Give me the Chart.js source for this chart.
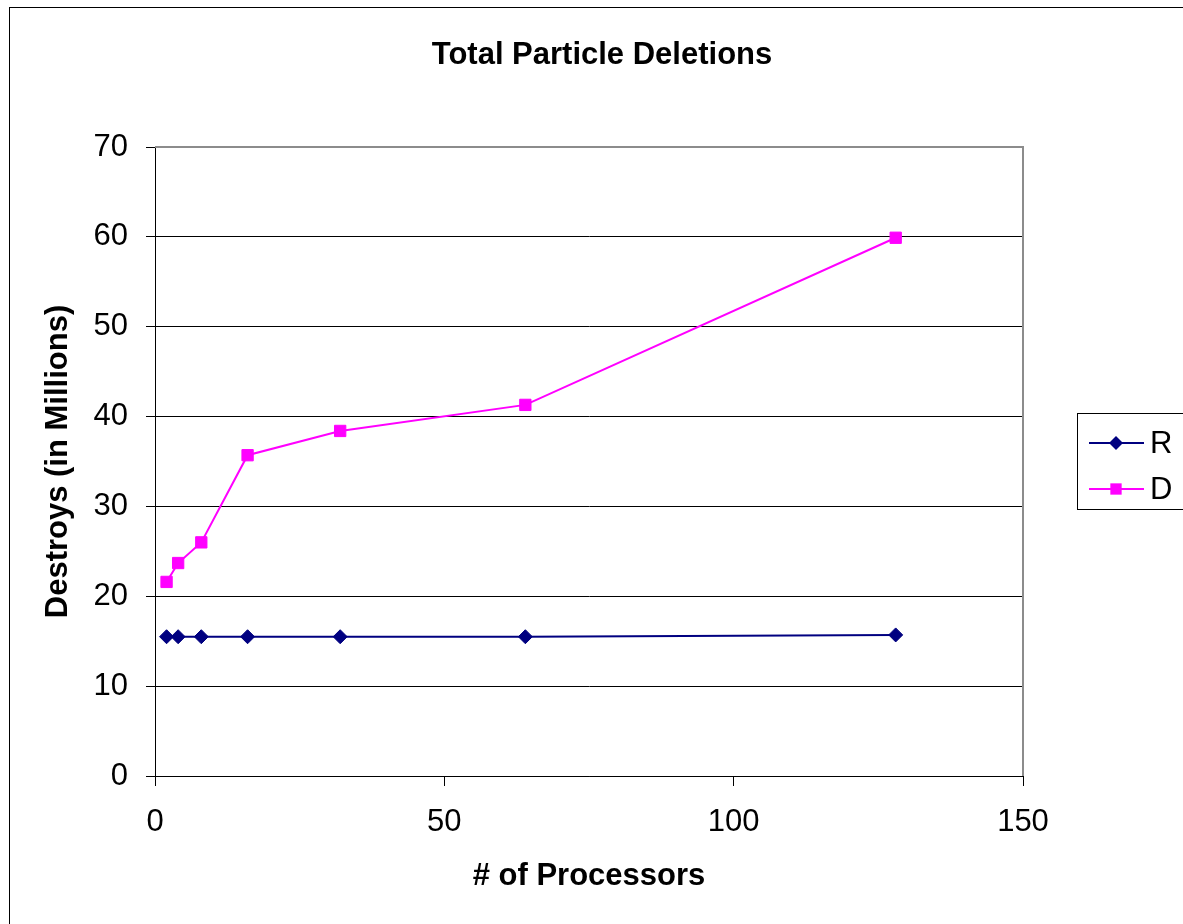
<!DOCTYPE html>
<html>
<head>
<meta charset="utf-8">
<title>Total Particle Deletions</title>
<script src="https://cdn.jsdelivr.net/npm/chart.js@4"></script>
<style>
    body { margin: 0; background: #fff; }
    canvas { display: block; }
</style>
</head>
<body>
<canvas id="deletions-chart" width="1183" height="924"></canvas>
<script>
const processors = [2, 4, 8, 16, 32, 64, 128];
const rValues = [15.5, 15.5, 15.5, 15.5, 15.5, 15.5, 15.7];
const dValues = [21.6, 23.7, 26.0, 35.7, 38.4, 41.3, 59.9];
const xTicks = [0, 50, 100, 150];
const yTicks = [0, 10, 20, 30, 40, 50, 60, 70];

const FONT = "'Liberation Sans', Arial, sans-serif";

/* frame, title, plot border, legend */

const decor = {
    id: 'decor',
    beforeDraw(chart) {
        const c = chart.ctx;
        c.save();
        c.fillStyle = '#fff';
        c.fillRect(0, 0, chart.width, chart.height);
        c.strokeStyle = '#000';
        c.lineWidth = 1;
        c.strokeRect(9.5, 7.5, 1300, 1100);
        c.restore();
    },
    beforeDatasetsDraw(chart) {
        const a = chart.chartArea;
        const c = chart.ctx;
        c.save();
        c.strokeStyle = '#8c8c8c';
        c.lineWidth = 2;
        c.beginPath();
        c.moveTo(a.left, a.top);
        c.lineTo(a.right, a.top);
        c.lineTo(a.right, a.bottom);
        c.stroke();
        c.restore();
    },
    afterDraw(chart) {
        const c = chart.ctx;
        c.save();
        c.fillStyle = '#000';
        c.font = 'bold 31px ' + FONT;
        c.textAlign = 'center';
        c.textBaseline = 'middle';
        c.fillText('Total Particle Deletions', 602, 55);

        // legend
        c.strokeStyle = '#000';
        c.lineWidth = 1;
        c.strokeRect(1077.5, 413.5, 200, 96);
        c.font = '31px ' + FONT;
        c.textAlign = 'left';
        chart.data.datasets.forEach((ds, i) => {
            const y = 443 + i * 46;
            c.strokeStyle = ds.borderColor;
            c.lineWidth = ds.borderWidth;
            c.beginPath();
            c.moveTo(1089, y);
            c.lineTo(1144, y);
            c.stroke();
            c.fillStyle = ds.pointBackgroundColor;
            c.strokeStyle = ds.pointBorderColor;
            c.lineWidth = 1;
            Chart.helpers.drawPoint(c, {pointStyle: ds.pointStyle, radius: ds.pointRadius, rotation: 0}, 1116, y);
            c.fillStyle = '#000';
            c.fillText(ds.label, 1150, y + 1);
        });
        c.restore();
    }
};

const ctx = document.getElementById('deletions-chart');

new Chart(ctx, {
    type: 'scatter',
    data: {
        datasets: [{
            label: 'R',
            data: processors.map((p, i) => ({x: p, y: rValues[i]})),
            showLine: true,
            borderColor: '#000080',
            borderWidth: 2,
            pointStyle: 'rectRot',
            pointRadius: 7,
            pointBackgroundColor: '#000080',
            pointBorderColor: '#000080',
            pointBorderWidth: 1
        }, {
            label: 'D',
            data: processors.map((p, i) => ({x: p, y: dValues[i]})),
            showLine: true,
            borderColor: '#ff00ff',
            borderWidth: 2,
            pointStyle: 'rect',
            pointRadius: 8,
            pointBackgroundColor: '#ff00ff',
            pointBorderColor: '#ff00ff',
            pointBorderWidth: 1
        }]
    },
    options: {
        responsive: false,
        animation: false,
        layout: { padding: { top: 147, right: 160, left: 0, bottom: 0 } },
        plugins: {
            legend: { display: false },
            tooltip: { enabled: false }
        },
        scales: {
            x: {
                type: 'linear',
                min: xTicks[0],
                max: xTicks[xTicks.length - 1],
                afterBuildTicks: s => { s.ticks = xTicks.map(v => ({value: v})); },
                afterFit: s => { s.height = 148; },
                ticks: { color: '#000', font: { family: FONT, size: 31 }, padding: 18, maxRotation: 0 },
                grid: { drawOnChartArea: false, color: '#000', tickLength: 10 },
                border: { color: '#000', width: 1 },
                title: {
                    display: true,
                    text: '# of Processors',
                    color: '#000',
                    font: { family: FONT, size: 31, weight: 'bold' },
                    padding: { top: 0, bottom: 29 }
                }
            },
            y: {
                min: yTicks[0],
                max: yTicks[yTicks.length - 1],
                afterBuildTicks: s => { s.ticks = yTicks.map(v => ({value: v})); },
                afterFit: s => { s.width = 155; },
                ticks: { color: '#000', font: { family: FONT, size: 31 }, padding: 18 },
                grid: {
                    color: c => c.tick && c.tick.value === 70 ? 'rgba(0,0,0,0)' : '#000',
                    tickColor: '#000',
                    tickLength: 9
                },
                border: { color: '#000', width: 1 },
                title: {
                    display: true,
                    text: 'Destroys (in Millions)',
                    color: '#000',
                    font: { family: FONT, size: 31, weight: 'bold' },
                    padding: { top: 40, bottom: 0 }
                }
            }
        }
    },
    plugins: [decor]
});
</script>
</body>
</html>
